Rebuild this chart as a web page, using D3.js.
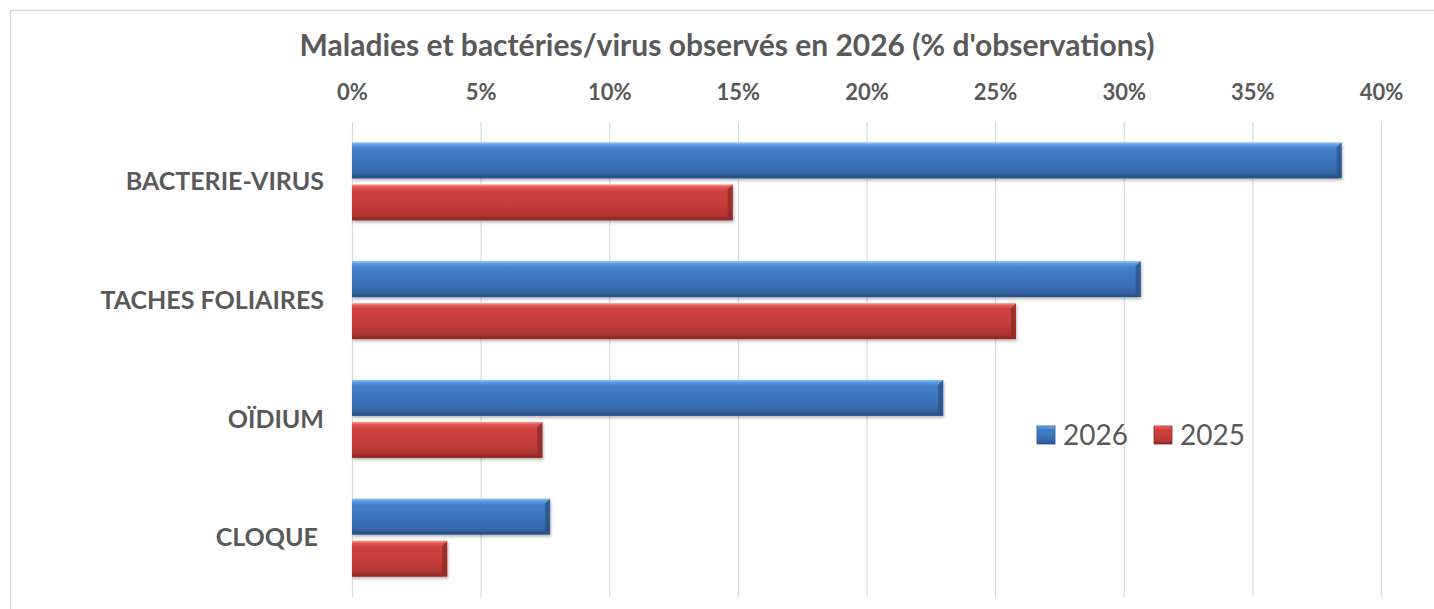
<!DOCTYPE html>
<html>
<head>
<meta charset="utf-8">
<script src="https://cdn.jsdelivr.net/npm/d3@7"></script>
<style>
  html, body { margin: 0; padding: 0; background: #fff; }
  svg { display: block; }
  text { font-family: Lato, "Open Sans", sans-serif; fill: #595959; }
</style>
</head>
<body>
<svg id="chart" width="1434" height="609"></svg>
<script>
// Categories, top to bottom
const categories = ["BACTERIE-VIRUS", "TACHES FOLIAIRES", "OÏDIUM", "CLOQUE "];
// Series (share of observations)
const seriesNames = ["2026", "2025"];
const values2026 = [0.3847, 0.3066, 0.2298, 0.0770];
const values2025 = [0.1480, 0.2581, 0.0740, 0.0370];
const tickValues = [0, 0.05, 0.10, 0.15, 0.20, 0.25, 0.30, 0.35, 0.40];
const titleText = "Maladies et bactéries/virus observés en 2026 (% d'observations)";

const seriesValues = { "2026": values2026, "2025": values2025 };
const palette = {
  "2026": { stops: ["#8cc3f7", "#5f9be0", "#437fcb", "#3c74bd", "#3565a6", "#2a5087"], edge: "#2b5284" },
  "2025": { stops: ["#ff9a9a", "#e25a57", "#d1423f", "#c63d3a", "#b03532", "#8c2725"], edge: "#8e2a28" }
};

const svg = d3.select("#chart");
const defs = svg.append("defs");

seriesNames.forEach(s => {
  const g = defs.append("linearGradient")
    .attr("id", "grad-" + s).attr("x1", 0).attr("y1", 0).attr("x2", 0).attr("y2", 1);
  const offs = [0, 0.07, 0.18, 0.55, 0.85, 1];
  palette[s].stops.forEach((c, i) => g.append("stop").attr("offset", offs[i]).attr("stop-color", c));
});
const shadow = defs.append("filter").attr("id", "shadow")
  .attr("x", "-5%").attr("y", "-20%").attr("width", "110%").attr("height", "150%");
shadow.append("feDropShadow").attr("dx", 1).attr("dy", 2).attr("stdDeviation", 1.6)
  .attr("flood-color", "#000").attr("flood-opacity", 0.28);

// Outer frame
svg.append("rect").attr("x", 10.5).attr("y", 10.5).attr("width", 1440).attr("height", 620)
  .attr("fill", "none").attr("stroke", "#d9d9d9").attr("stroke-width", 1.5);

const plotTop = 122, plotBottom = 597;
const x = d3.scaleLinear().domain([0, 0.40]).range([352, 1381]);
const y = d3.scaleBand().domain(categories).range([plotTop, plotBottom]).padding(0);
const ySub = d3.scaleBand().domain(seriesNames).range([0, y.bandwidth()])
  .paddingInner(0.143).paddingOuter(0.485);

// Title
svg.append("text").attr("x", 727).attr("y", 45).attr("dy", "0.35em")
  .attr("text-anchor", "middle").style("font-size", "30px").style("font-weight", "bold")
  .text(titleText);

// Vertical gridlines
svg.append("g").selectAll("line").data(tickValues).join("line")
  .attr("x1", d => x(d) + 0.5).attr("x2", d => x(d) + 0.5)
  .attr("y1", plotTop).attr("y2", plotBottom)
  .attr("stroke", "#d9d9d9").attr("stroke-width", 1.2);

// Top axis
const axis = svg.append("g").attr("transform", `translate(0,${plotTop})`)
  .call(d3.axisTop(x).tickValues(tickValues).tickFormat(d3.format(".0%")).tickSize(0).tickPadding(22));
axis.select(".domain").remove();
axis.selectAll("text").style("font-family", "Lato, sans-serif").style("font-size", "22px")
  .style("font-weight", "bold").attr("fill", "#595959");

// Category labels
svg.append("g").selectAll("text").data(categories).join("text")
  .attr("x", 324).attr("y", d => y(d) + y.bandwidth() / 2).attr("dy", "0.35em")
  .attr("text-anchor", "end").style("font-size", "25px").style("font-weight", "bold")
  .style("white-space", "pre")
  .text(d => d);

// Bars
const groups = svg.append("g").selectAll("g").data(categories).join("g")
  .attr("transform", d => `translate(0,${y(d)})`);

seriesNames.forEach(s => {
  const bar = groups.append("g").attr("filter", "url(#shadow)");
  const h = ySub.bandwidth();
  bar.append("rect")
    .attr("x", x(0)).attr("y", ySub(s))
    .attr("width", (d, i) => x(seriesValues[s][i]) - x(0)).attr("height", h)
    .attr("fill", `url(#grad-${s})`);
  // bevelled right end
  bar.append("path")
    .attr("d", (d, i) => {
      const xe = x(seriesValues[s][i]), y0 = ySub(s);
      return `M${xe - 5},${y0 + 5} L${xe},${y0} L${xe},${y0 + h} L${xe - 5},${y0 + h - 4} Z`;
    })
    .attr("fill", palette[s].edge).attr("opacity", 0.75);
  // bottom bevel
  bar.append("rect")
    .attr("x", x(0)).attr("y", ySub(s) + h - 3)
    .attr("width", (d, i) => Math.max(0, x(seriesValues[s][i]) - x(0) - 4)).attr("height", 3)
    .attr("fill", palette[s].edge).attr("opacity", 0.45);
});

// Legend
const legend = svg.append("g");
const legendItems = [{ name: "2026", x: 1037 }, { name: "2025", x: 1154 }];
legendItems.forEach(item => {
  legend.append("rect").attr("x", item.x).attr("y", 426).attr("width", 18).attr("height", 18)
    .attr("fill", `url(#grad-${item.name})`).attr("stroke", palette[item.name].edge).attr("stroke-width", 0.8);
  legend.append("text").attr("x", item.x + 26).attr("y", 435).attr("dy", "0.35em")
    .style("font-size", "28px").text(item.name);
});
</script>
</body>
</html>
